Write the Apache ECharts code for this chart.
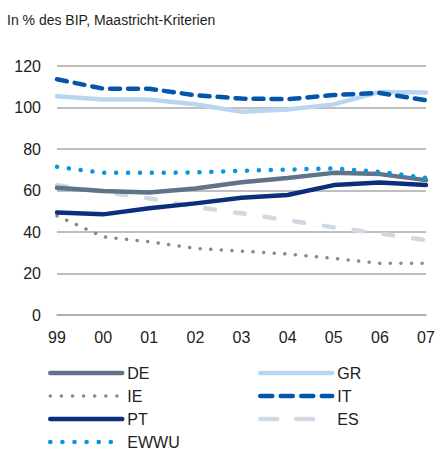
<!DOCTYPE html>
<html>
<head>
<meta charset="utf-8">
<script src="https://cdn.jsdelivr.net/npm/echarts@6/dist/echarts.min.js"></script>
<style>
  html, body { margin: 0; padding: 0; background: #fff; }
  #chart { width: 438px; height: 453px; }
</style>
</head>
<body>
<div id="chart"></div>
<script>
// Jahre (x-Achse)
const years = ['99', '00', '01', '02', '03', '04', '05', '06', '07'];
const yTicks = [0, 20, 40, 60, 80, 100, 120];

// Staatsverschuldung in % des BIP
const de = [61.3, 59.8, 59.0, 61.0, 64.0, 66.0, 68.5, 67.9, 65.0];
const gr = [105.4, 103.8, 103.8, 101.6, 97.9, 99.0, 101.5, 107.5, 107.2];
const ie = [47.8, 37.7, 35.3, 32.1, 30.8, 29.4, 27.3, 24.9, 24.9];
const it = [113.6, 109.1, 109.0, 105.9, 104.3, 104.0, 106.0, 107.0, 103.5];
const pt = [49.4, 48.5, 51.4, 53.8, 56.5, 57.8, 62.6, 63.9, 62.6];
const es = [62.6, 59.4, 56.2, 52.1, 49.0, 45.7, 42.2, 39.3, 36.1];
const ewwu = [71.4, 68.5, 68.5, 68.7, 69.5, 70.1, 70.6, 69.0, 66.1];

const font = 'Liberation Sans, Arial, sans-serif';

const chart = echarts.init(document.getElementById('chart'), null, { renderer: 'svg' });

// gemeinsame Linien-Konfiguration
const mkLine = (name, data, color, width, type) => ({
  name,
  type: 'line',
  data,
  symbol: 'none',
  smooth: false,
  silent: true,
  lineStyle: { color, width, type, cap: 'round', join: 'round' },
  itemStyle: { color },
});

const series = [
  mkLine('ES', es, '#d0d9e2', 4.5, [10, 20]),
  mkLine('IE', ie, '#8a8a8a', 3.5, [0.1, 10.5]),
  mkLine('PT', pt, '#0b2f7c', 4.5, 'solid'),
  mkLine('DE', de, '#5f7488', 4.5, 'solid'),
  mkLine('EWWU', ewwu, '#0a97d9', 4.5, [0.1, 11.8]),
  mkLine('GR', gr, '#b9d5f0', 4.5, 'solid'),
  mkLine('IT', it, '#0456ab', 4.5, [10, 8]),
];

// Legendeneintrag mit eigener Strichart
const legendItem = (name, width, type) => ({
  name,
  lineStyle: { width, type, cap: 'round' },
});

const legendBase = {
  orient: 'vertical',
  top: 365,
  height: 120,
  padding: 0,
  itemWidth: 72,
  itemHeight: 10,
  itemGap: 7,
  itemStyle: { opacity: 0 },
  textStyle: { fontFamily: font, fontSize: 16, color: '#222' },
  selectedMode: false,
};

chart.setOption({
  animation: false,
  title: {
    text: 'In % des BIP, Maastricht-Kriterien',
    left: 2,
    top: 8,
    textStyle: { fontFamily: font, fontSize: 14, fontWeight: 'normal', color: '#222' },
  },
  legend: [
    {
      ...legendBase,
      left: 48,
      data: [
        legendItem('DE', 4.5, 'solid'),
        legendItem('IE', 3.5, [0.1, 11]),
        legendItem('PT', 4.5, 'solid'),
        legendItem('EWWU', 4.5, [0.1, 12]),
      ],
    },
    {
      ...legendBase,
      left: 258,
      data: [
        legendItem('GR', 4.5, 'solid'),
        legendItem('IT', 4.5, [12, 8.5]),
        legendItem('ES', 4.5, [17, 19]),
      ],
    },
  ],
  grid: { left: 57, right: 12, top: 66, bottom: 138 },
  xAxis: {
    type: 'category',
    data: years,
    boundaryGap: false,
    axisLine: { show: true, lineStyle: { color: '#aaa', width: 1.5 } },
    axisTick: { show: false },
    axisLabel: { fontFamily: font, fontSize: 16, color: '#222', margin: 14 },
  },
  yAxis: {
    type: 'value',
    min: yTicks[0],
    max: yTicks[yTicks.length - 1],
    interval: 20,
    axisLine: { show: false },
    axisTick: { show: false },
    axisLabel: { fontFamily: font, fontSize: 16, color: '#222', margin: 16 },
    splitLine: { lineStyle: { color: '#aaa', width: 1.5 } },
  },
  series,
});
</script>
</body>
</html>
